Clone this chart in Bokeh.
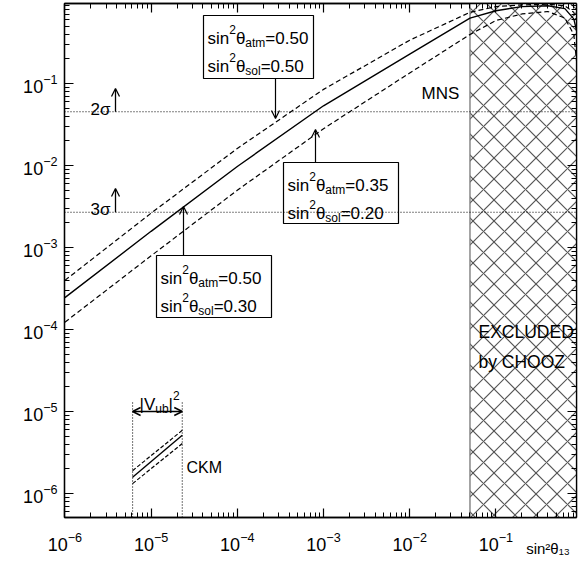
import numpy as np
from bokeh.plotting import figure
from bokeh.models import (Label, Arrow, OpenHead, LogAxis, LogTicker, FixedTicker, BoxAnnotation,
                          CustomJSTickFormatter, Range1d, Span)
from bokeh.embed import file_html
from bokeh.resources import INLINE

# ---------------- data ----------------
x_mns = [1e-6, 1e-5, 1e-4, 1e-3, 1e-2, 0.05, 0.1, 0.2, 0.4, 0.63, 0.8, 0.86]
# sin2_atm=0.50, sin2_sol=0.30 (solid)
p_central = [2.45e-4, 1.58e-3, 9.77e-3, 0.0537, 0.229, 0.631, 0.776, 0.871, 0.891, 0.822, 0.617, 0.447]
# sin2_atm=0.50, sin2_sol=0.50 (upper dashed)
p_upper = [3.98e-4, 2.63e-3, 0.0162, 0.0851, 0.339, 0.741, 0.871, 0.912, 0.933, 0.891, 0.741, 0.589]
# sin2_atm=0.35, sin2_sol=0.20 (lower dashed)
p_lower = [1.23e-4, 7.94e-4, 5.01e-3, 0.0282, 0.135, 0.398, 0.589, 0.708, 0.759, 0.631, 0.398, 0.191]

x_ckm = [6.1e-6, 2.3e-5]
p_ckm_central = [1.58e-6, 5.13e-6]
p_ckm_upper = [1.90e-6, 5.90e-6]
p_ckm_lower = [1.32e-6, 4.07e-6]

p_2sigma = 0.0455
p_3sigma = 0.0027
chooz_limit = 0.05

X0, X1 = 0.99e-6, 0.86
Y0, Y1 = 5.1e-7, 0.95

FONT = "Liberation Sans"

# ---------------- helpers ----------------
AW = {'a': 556, 'b': 556, 'c': 500, 'd': 556, 'e': 556, 'f': 278, 'g': 556, 'h': 556, 'i': 222,
      'j': 222, 'k': 500, 'l': 222, 'm': 833, 'n': 556, 'o': 556, 'p': 556, 'q': 556, 'r': 333,
      's': 500, 't': 278, 'u': 556, 'v': 500, 'w': 722, 'x': 500, 'y': 500, 'z': 500,
      'C': 722, 'K': 667, 'M': 833, 'V': 667, '=': 584, '.': 278, '|': 260, ' ': 278,
      'θ': 556, 'σ': 600}


def text_w(s, fs):
    return sum(AW.get(ch, 556) for ch in s) * fs / 1000.0


LX0, LX1 = np.log10(X0), np.log10(X1)
LY0, LY1 = np.log10(Y0), np.log10(Y1)
REF_L, REF_R, REF_T, REF_B = 64, 576, 3, 517


def ref_x(px):
    return 10 ** (LX0 + (px - REF_L) / (REF_R - REF_L) * (LX1 - LX0))


def ref_y(py):
    return 10 ** (LY1 - (py - REF_T) / (REF_B - REF_T) * (LY1 - LY0))


p = figure(x_axis_type="log", y_axis_type="log",
           x_range=Range1d(X0, X1), y_range=Range1d(Y0, Y1),
           width=579, height=567,
           min_border_left=64, min_border_right=3, min_border_top=3, min_border_bottom=50,
           output_backend="svg", toolbar_location=None)
p.xgrid.visible = False
p.ygrid.visible = False
p.outline_line_color = "black"
p.outline_line_width = 1.3
p.background_fill_color = "white"
p.border_fill_color = "white"


def rich(px, py, parts, fs=17):
    off = 0.0
    for txt, kind in parts:
        if kind == "n":
            f, dy = fs, 0
        elif kind == "sup":
            f, dy = round(fs * 0.7), fs * 0.52
        else:
            f, dy = round(fs * 0.7), -fs * 0.27
        lab = Label(x=ref_x(px), y=ref_y(py), x_offset=off, y_offset=dy, text=txt)
        lab.text_font = FONT
        lab.text_font_size = f"{f}px"
        lab.text_baseline = "alphabetic"
        lab.text_align = "left"
        lab.text_color = "black"
        p.add_layout(lab)
        off += text_w(txt, f)


# ---------------- axes ----------------
def style_axis(ax):
    ax.major_tick_in = 9
    ax.major_tick_out = 0
    ax.minor_tick_in = 5
    ax.minor_tick_out = 0
    ax.axis_line_width = 1.3
    ax.axis_line_color = "black"
    ax.major_tick_line_width = 1.2
    ax.minor_tick_line_width = 1.0
    ax.major_tick_line_color = "black"
    ax.minor_tick_line_color = "black"
    ax.major_label_text_font = FONT
    ax.major_label_text_font_size = "18px"
    ax.major_label_text_color = "black"


xt = LogTicker(desired_num_ticks=8, num_minor_ticks=10)
yt = LogTicker(desired_num_ticks=8, num_minor_ticks=10)
p.xaxis[0].ticker = xt
p.yaxis[0].ticker = yt
style_axis(p.xaxis[0])
style_axis(p.yaxis[0])
p.xaxis[0].major_label_standoff = 14
p.yaxis[0].major_label_standoff = 7

top = LogAxis(ticker=xt, formatter=CustomJSTickFormatter(code="return ''"))
right = LogAxis(ticker=yt, formatter=CustomJSTickFormatter(code="return ''"))
for ax in (top, right):
    style_axis(ax)
    ax.major_label_text_font_size = "0px"
    ax.major_label_standoff = 0
p.add_layout(top, "above")
p.add_layout(right, "right")

# x-axis title: a second, bare axis below the first one whose single "tick label"
# is the title, placed under the right end of the axis like in the reference
title_axis = LogAxis(ticker=FixedTicker(ticks=[ref_x(547.5)], minor_ticks=[]),
                     formatter=CustomJSTickFormatter(code="return 'sin²θ₁₃'"))
title_axis.axis_line_color = None
title_axis.major_tick_line_color = None
title_axis.minor_tick_line_color = None
title_axis.major_tick_in = 0
title_axis.major_tick_out = 0
title_axis.minor_tick_in = 0
title_axis.minor_tick_out = 0
title_axis.major_label_standoff = -14
title_axis.major_label_text_font = FONT
title_axis.major_label_text_font_size = "15px"
title_axis.major_label_text_color = "black"
p.add_layout(title_axis, "below")

# ---------------- excluded region ----------------
p.quad(left=[chooz_limit], right=[X1 * 10], bottom=[Y0 / 10], top=[Y1 * 10],
       fill_color="white", hatch_pattern="x", hatch_color="#555555", hatch_scale=21,
       hatch_weight=1.2, line_color="#777777", line_width=1.3)

# ---------------- sigma levels ----------------
for lev in (p_2sigma, p_3sigma):
    p.add_layout(Span(location=lev, dimension="width", line_color="black",
                      line_dash="1 2", line_width=1.1))

# ---------------- MNS curves ----------------
p.line(x_mns, p_central, line_color="black", line_width=1.4)
p.line(x_mns, p_upper, line_color="black", line_width=1.2, line_dash="5 3")
p.line(x_mns, p_lower, line_color="black", line_width=1.2, line_dash="5 3")

# ---------------- CKM ----------------
p.line(x_ckm, p_ckm_central, line_color="black", line_width=1.4)
p.line(x_ckm, p_ckm_upper, line_color="black", line_width=1.2, line_dash="4 2")
p.line(x_ckm, p_ckm_lower, line_color="black", line_width=1.2, line_dash="4 2")
p.segment(x0=x_ckm, x1=x_ckm, y0=[Y0, Y0], y1=[ref_y(402)] * 2,
          line_color="black", line_dash="1 2", line_width=1.1)
p.add_layout(Arrow(start=OpenHead(size=8, line_width=1.4), end=OpenHead(size=8, line_width=1.4),
                   x_start=x_ckm[0], y_start=ref_y(411), x_end=x_ckm[1], y_end=ref_y(411),
                   line_width=1.4))
rich(139, 404, [("|V", "n"), ("ub", "sub"), ("|", "n"), ("2", "sup")], fs=17)
rich(186, 467, [("CKM", "n")], fs=16)

# ---------------- sigma arrows ----------------
p.add_layout(Arrow(end=OpenHead(size=8, line_width=1.3), x_start=ref_x(115), y_start=p_2sigma,
                   x_end=ref_x(115), y_end=ref_y(88), line_width=1.3))
p.add_layout(Arrow(end=OpenHead(size=8, line_width=1.3), x_start=ref_x(115), y_start=p_3sigma,
                   x_end=ref_x(115), y_end=ref_y(188), line_width=1.3))
rich(90, 109, [("2σ", "n")], fs=17)
rich(90, 209, [("3σ", "n")], fs=17)

# ---------------- annotation boxes ----------------
def box(l, t, r, b, ax, ay0, ay1, atm, sol):
    p.add_layout(BoxAnnotation(left=ref_x(l), right=ref_x(r), top=ref_y(t), bottom=ref_y(b),
                               fill_alpha=0, line_color="black", line_width=1.2,
                               line_alpha=1))
    p.add_layout(Arrow(end=OpenHead(size=8, line_width=1.2), x_start=ref_x(ax), y_start=ref_y(ay0),
                       x_end=ref_x(ax), y_end=ref_y(ay1), line_width=1.2))
    rich(l + 4, t + 23, [("sin", "n"), ("2", "sup"), ("θ", "n"), ("atm", "sub"), ("=" + atm, "n")])
    rich(l + 4, t + 51, [("sin", "n"), ("2", "sup"), ("θ", "n"), ("sol", "sub"), ("=" + sol, "n")])


box(203, 15, 313, 78, 275, 78, 118, "0.50", "0.50")
box(283, 162, 398, 223, 315, 162, 129, "0.35", "0.20")
box(156, 255, 271, 317, 183, 255, 206, "0.50", "0.30")

# ---------------- other labels ----------------
rich(421, 93, [("MNS", "n")], fs=17)
rich(478, 331, [("EXCLUDED", "n")], fs=17.5)
rich(478, 361, [("by CHOOZ", "n")], fs=17.5)

# y-axis title
p.add_layout(Label(x=X0, y=ref_y(5), x_offset=-44, text="P(KS)", text_font=FONT,
                   text_font_size="16px", angle=np.pi / 2, text_align="right",
                   text_baseline="alphabetic", text_color="black"))

open("out.html", "w").write(file_html(p, INLINE))
